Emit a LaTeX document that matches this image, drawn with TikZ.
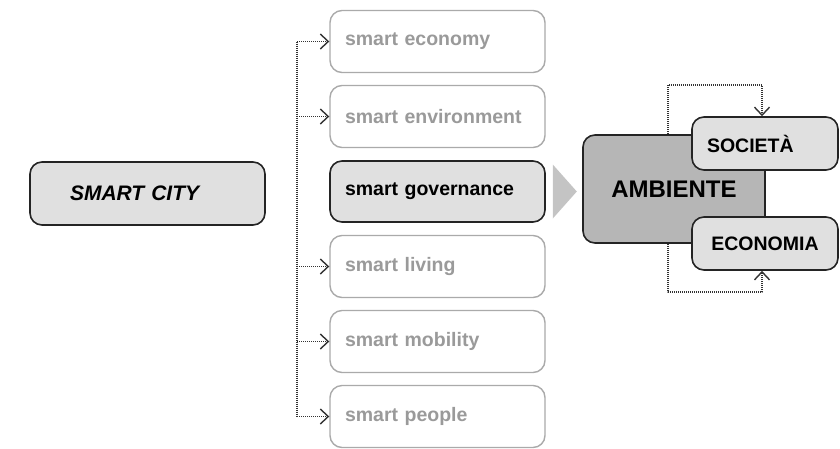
\documentclass[tikz,border=0pt]{standalone}
\usepackage{fontspec}
\setmainfont{Liberation Sans}
\usetikzlibrary{arrows.meta, calc}

\definecolor{boxfill}{HTML}{E0E0E0}
\definecolor{ambfill}{HTML}{B6B6B6}
\definecolor{tipfill}{HTML}{C4C4C4}
\definecolor{fadeline}{HTML}{AAAAAA}
\definecolor{fadetext}{HTML}{9A9A9A}
\definecolor{darkline}{HTML}{242424}
\definecolor{dotline}{HTML}{333333}

\begin{document}
\begin{tikzpicture}[x=1pt, y=-1pt, >={Straight Barb[length=8pt,width=15pt,line width=1.4pt]}, line join=round]
	\useasboundingbox (0,0) rectangle (840,448);
	
	%======================
	% STYLES
	%======================
	\tikzset{
		base/.style={rounded corners=12pt, inner xsep=15pt, inner ysep=0pt,
			font=\fontsize{19.5}{22}\selectfont\bfseries},
		dimbox/.style={base, draw=fadeline, line width=1.4pt, fill=white, text=fadetext,
			minimum height=62pt, text width=185pt, align=left},
		hibox/.style={base, draw=darkline, line width=1.6pt, fill=boxfill, text=black,
			minimum height=61pt, text width=185pt, align=left},
		citybox/.style={hibox, inner xsep=40pt, text width=155pt, minimum height=63pt,
			font=\fontsize{21}{24}\selectfont\bfseries\itshape},
		ambbox/.style={base, draw=darkline, line width=1.6pt, fill=ambfill,
			minimum width=182pt, minimum height=108pt, font=\fontsize{24}{27}\selectfont\bfseries},
		subbox/.style={base, draw=darkline, line width=1.6pt, fill=boxfill,
			minimum width=146pt, minimum height=53pt},
		dots/.style={draw=dotline, line width=1.1pt, dash pattern=on 1pt off 1pt},
		link/.style={dots, ->}
	}
	
	% left box
	\node[citybox] (city) at (147.5,193.5) {SMART CITY};
	
	% the six smart boxes
	\node[dimbox] (seco) at (437.5,41.5)  {smart economy};
	\node[dimbox] (senv) at (437.5,116.5) {smart environment};
	\node[hibox]  (sgov) at (437.5,191.5) {smart governance};
	\node[dimbox] (sliv) at (437.5,266.5) {smart living};
	\node[dimbox] (smob) at (437.5,341.5) {smart mobility};
	\node[dimbox] (speo) at (437.5,416.5) {smart people};
	
	% dotted trunk and branches
	\coordinate (trunk) at (297,0);
	\draw[dots] (seco.west -| trunk) -- (speo.west -| trunk);
	\draw[link] (seco.west -| trunk) -- (seco.west);
	\draw[link] (senv.west -| trunk) -- (senv.west);
	\draw[link] (sliv.west -| trunk) -- (sliv.west);
	\draw[link] (smob.west -| trunk) -- (smob.west);
	\draw[link] (speo.west -| trunk) -- (speo.west);
	
	% grey pointer
	\fill[tipfill] ($(sgov.east)+(7,-27)$) -- ($(sgov.east)+(31,0)$) -- ($(sgov.east)+(7,27)$) -- cycle;
	
	% right cluster
	\node[ambbox] (amb) at (674,189) {AMBIENTE};
	\node[subbox, text width=116pt, align=left] (soc) at (765,143.5) {SOCIETÀ};
	\node[subbox, align=center] (ecn) at (765,243.5) {ECONOMIA};
	
	% feedback loops
	\coordinate (loopT) at (668,85);
	\coordinate (loopB) at (668,292);
	\draw[link] (amb.north -| loopT) -- (loopT) -| ($(soc.north)+(-3,0)$);
	\draw[link] (amb.south -| loopB) -- (loopB) -| ($(ecn.south)+(-3,0)$);
\end{tikzpicture}
\end{document}
